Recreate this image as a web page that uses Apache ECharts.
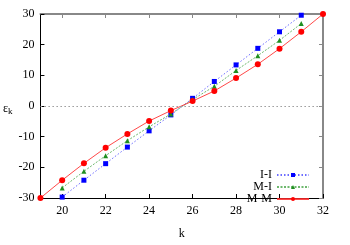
<!DOCTYPE html>
<html><head><meta charset="utf-8">
<script src="https://cdn.jsdelivr.net/npm/echarts@6/dist/echarts.min.js"></script>
<style>html,body{margin:0;padding:0;background:#fff}#c{width:350px;height:245px}</style>
</head><body><div id="c"></div>
<script>
const kMM = [19, 20, 21, 22, 23, 24, 25, 26, 27, 28, 29, 30, 31, 32];
const valMM = [-30, -24.2, -18.7, -13.6, -9.1, -4.9, -1.5, 1.6, 4.9, 9.1, 13.6, 18.7, 24.2, 30];
const kMI = [20, 21, 22, 23, 24, 25, 26, 27, 28, 29, 30, 31];
const valMI = [-26.7, -21.3, -16.2, -11.3, -6.8, -2.6, 2.1, 6.4, 11.6, 16.4, 21.4, 26.9];
const kII = [20, 21, 22, 23, 24, 25, 26, 27, 28, 29, 30, 31];
const valII = [-29.7, -24.2, -18.8, -13.4, -8.1, -2.9, 2.5, 8.0, 13.4, 18.8, 24.2, 29.6];
const xTicks = [20, 22, 24, 26, 28, 30, 32];
const yTicks = [-30, -20, -10, 0, 10, 20, 30];
const names = ['I-I', 'M-I', 'M-M'];

const font = 'Liberation Serif';
const zip = (a, b) => a.map((x, i) => [x, b[i]]);

const chart = echarts.init(document.getElementById('c'), null, {renderer: 'canvas'});
const axisBase = {
  type: 'value', min: 19, max: 32,
  splitLine: {show: false}
};
chart.setOption({
  animation: false,
  backgroundColor: '#fff',
  grid: {left: 38, right: 27, top: 14, bottom: 38},
  legend: {
    orient: 'vertical', right: 40, top: 169, align: 'right', padding: 0,
    itemWidth: 32, itemHeight: 5, itemGap: 0,
    textStyle: {fontFamily: font, fontSize: 12, lineHeight: 12, color: '#000'},
    data: names
  },
  xAxis: [
    Object.assign({}, axisBase, {
      position: 'bottom',
      name: 'k', nameLocation: 'middle', nameGap: 30,
      nameTextStyle: {fontFamily: font, fontSize: 12, color: '#000'},
      axisLine: {onZero: false, lineStyle: {color: '#000', width: 1}},
      axisTick: {inside: true, length: 4, customValues: xTicks, lineStyle: {color: '#000'}},
      axisLabel: {customValues: xTicks, fontFamily: font, fontSize: 12, color: '#000', margin: 7}
    }),
    Object.assign({}, axisBase, {
      position: 'top',
      axisLine: {onZero: false, lineStyle: {color: '#888', width: 2}},
      axisTick: {inside: true, length: 4, customValues: xTicks, lineStyle: {color: '#888'}},
      axisLabel: {show: false}
    })
  ],
  yAxis: [
    {
      type: 'value', min: -30, max: 30, interval: 10, position: 'left',
      splitLine: {show: false},
      name: '{a|ε}{b|k}', nameLocation: 'middle', nameRotate: 0, nameGap: 22,
      nameTextStyle: {padding: [6, 0, 0, 0], rich: {
        a: {fontFamily: font, fontSize: 12, color: '#000'},
        b: {fontFamily: font, fontSize: 9, color: '#000', padding: [6, 0, 0, 0]}
      }},
      axisLine: {onZero: false, lineStyle: {color: '#000', width: 1}},
      axisTick: {inside: true, length: 4, lineStyle: {color: '#000'}},
      axisLabel: {fontFamily: font, fontSize: 12, color: '#000', margin: 6}
    },
    {
      type: 'value', min: -30, max: 30, interval: 10, position: 'right',
      splitLine: {show: false},
      axisLine: {onZero: false, lineStyle: {color: '#888', width: 2}},
      axisTick: {inside: true, length: 4, lineStyle: {color: '#888'}},
      axisLabel: {show: false}
    }
  ],
  series: [
    {
      name: names[0], type: 'line', clip: false, data: zip(kII, valII),
      symbol: 'rect', symbolSize: 5,
      itemStyle: {color: '#0000ff'},
      lineStyle: {color: 'rgba(60,60,255,0.75)', width: 1, type: [1.5, 2]},
      markLine: {
        silent: true, symbol: 'none', label: {show: false},
        lineStyle: {color: '#999', width: 1, type: [1.5, 2.5]},
        data: [{yAxis: 0}]
      }
    },
    {
      name: names[1], type: 'line', clip: false, data: zip(kMI, valMI),
      symbol: 'triangle', symbolSize: 5,
      itemStyle: {color: '#1f8f1f'},
      lineStyle: {color: 'rgba(60,160,60,0.75)', width: 1, type: [2, 1.5]}
    },
    {
      name: names[2], type: 'line', clip: false, data: zip(kMM, valMM),
      symbol: 'circle', symbolSize: 6,
      itemStyle: {color: '#ff0000'},
      lineStyle: {color: 'rgba(255,40,40,0.85)', width: 1, type: 'solid'}
    }
  ]
});
</script></body></html>
